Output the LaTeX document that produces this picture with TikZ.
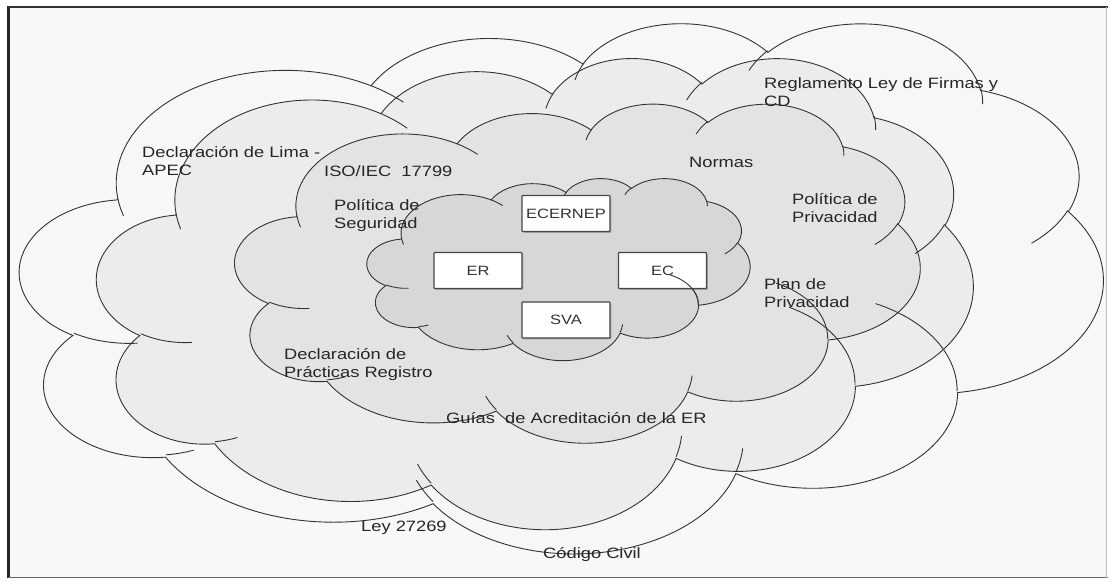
\documentclass[tikz,border=0pt]{standalone}
\usepackage{fontspec}
\setmainfont{Liberation Sans}[FakeStretch=1.22]
\usetikzlibrary{shadows}

% One elliptical arc of the cloud outline: wR, hR, start angle and sweep are
% polar angles on the ellipse; turn them into TikZ's parametric angles.
\newcommand\defarc[5]{%
  \pgfmathsetmacro\arcA{atan2((#2)*sin(#4),(#3)*cos(#4))}%
  \pgfmathsetmacro\arcB{atan2((#2)*sin((#4)+(#5)),(#3)*cos((#4)+(#5)))}%
  \pgfmathsetmacro\arcD{mod(\arcB-\arcA+720,360)}%
  \tikzset{#1/.estyle={x radius=#2pt, y radius=#3pt, start angle=\arcA, delta angle=\arcD}}%
}
% outline lobes (frame 43.2 x 43.2, y downwards)
\defarc{oa1}{6.753}{9.19}{-190.48748}{123.78053}
\defarc{oa2}{5.333}{7.267}{-144.10238}{89.94523}
\defarc{oa3}{4.365}{5.945}{-145.80792}{99.72302}
\defarc{oa4}{4.857}{6.595}{-130.98607}{117.24173}
\defarc{oa5}{5.333}{7.273}{-78.70888}{109.02692}
\defarc{oa6}{6.775}{9.22}{-46.26725}{130.269}
\defarc{oa7}{5.785}{7.867}{0.62502}{114.03333}
\defarc{oa8}{6.752}{9.215}{22.4516}{115.17255}
\defarc{oa9}{7.72}{10.543}{66.24263}{75.71102}
\defarc{oa10}{4.36}{5.918}{-274.94208}{146.73557}
\defarc{oa11}{4.345}{5.945}{-246.8285}{152.51885}
% inner creases between the lobes
\defarc{oc1}{4.345}{5.945}{86.742}{26.4295}
\defarc{oc2}{4.36}{5.918}{73.61047}{11.44747}
\defarc{oc3}{6.752}{9.215}{137.62415}{14.0811}
\defarc{oc4}{6.752}{9.215}{6.45327}{15.99835}
\defarc{oc5}{5.785}{7.867}{-70.29235}{70.9174}
\defarc{oc6}{5.333}{7.273}{30.31803}{27.7515}
\defarc{oc7}{4.857}{6.595}{-13.74433}{14.8589}
\defarc{oc8}{4.857}{6.595}{-149.18145}{18.19537}
\defarc{oc9}{4.365}{5.945}{-163.49427}{17.68635}
\defarc{oc10}{6.753}{9.19}{-66.70695}{12.31935}
\defarc{oc11}{6.753}{9.19}{157.65435}{11.85538}

\def\cloudpath{(3.9,14.37) arc[oa1] arc[oa2] arc[oa3] arc[oa4] arc[oa5]
  arc[oa6] arc[oa7] arc[oa8] arc[oa9] arc[oa10] arc[oa11] -- cycle}
\def\creasepath{(4.693,26.177) arc[oc1] (6.928,34.899) arc[oc2]
  (16.478,39.09) arc[oc3] (28.827,34.751) arc[oc4] (34.129,22.954) arc[oc5]
  (41.798,15.354) arc[oc6] (38.324,5.426) arc[oc7] (29.078,3.952) arc[oc8]
  (22.141,4.72) arc[oc9] (14,5.192) arc[oc10] (4.127,15.789) arc[oc11]}
\def\lowcrease{(34.129,22.954) arc[oc5]}

\newcommand\twolines[2]{\vtop{\hbox{#1}\hbox{#2}}}

\definecolor{bgpage}{HTML}{F8F8F8}
\definecolor{cloudA}{HTML}{F7F7F7}
\definecolor{cloudB}{HTML}{ECECEC}
\definecolor{cloudC}{HTML}{E3E3E3}
\definecolor{cloudD}{HTML}{D7D7D7}

\tikzset{
  cloudat/.style args={#1/#2/#3/#4}{shift={(#1,-#2)}, xscale=#3/43.2, yscale=-#4/43.2},
  cloudline/.style={draw=black!80, line width=0.9pt},
  lbl/.style={inner sep=0pt, anchor=base west, font=\fontsize{15}{18}\selectfont, text=black!85},
  entity/.style={draw=black!72, line width=1.2pt, fill=white, rounded corners=0.8pt,
    minimum width=88pt, minimum height=36pt, inner sep=0pt,
    font=\fontsize{13.5}{16}\selectfont, text=black!80,
    drop shadow={shadow xshift=1.3pt, shadow yshift=-1.3pt, fill=black!50, opacity=0.55}},
}

\begin{document}
\begin{tikzpicture}[x=1pt,y=1pt]
\useasboundingbox (0,0) rectangle (1111,-581);
\fill[white] (0,0) rectangle (1111,-581);
\fill[bgpage] (8,-7) rectangle (1106,-577);

% cloud fills, outermost first
\begin{scope}[cloudat=20/22/1083/530] \fill[cloudA] \cloudpath; \end{scope}
\begin{scope}[cloudat=97/57/876/471]  \fill[cloudB] \cloudpath; \end{scope}
\begin{scope}[cloudat=235/103/685/339] \fill[cloudC] \cloudpath; \end{scope}
\begin{scope}[cloudat=367/178/383/182] \fill[cloudD] \cloudpath; \end{scope}

% cloud outlines and creases
\foreach \c in {20/22/1083/530, 97/57/876/471, 235/103/685/339, 367/178/383/182}{
  \begin{scope}[cloudat/.expanded=\c]
    \path[cloudline] \cloudpath;
    \path[cloudline] \creasepath;
  \end{scope}
}

% entities in the core
\node[entity] (ecernep) at (566,-213.5) {ECERNEP};
\node[entity] (er)      at (478,-270.5) {ER};
\node[entity] (ec)      at (662.5,-270.5) {EC};
\node[entity] (sva)     at (566,-320) {SVA};

% the core cloud's lower crease runs over the EC box
\begin{scope}[cloudat=367/178/383/182] \path[cloudline] \lowcrease; \end{scope}

% frame
\draw[black!85, line width=2.5pt] (8.5,-5.5) -- (8.5,-578);
\draw[black!80, line width=2pt] (7.5,-7) -- (1108,-7);
\draw[black!60, line width=1.5pt] (7.5,-577.5) -- (1108,-577.5);
\draw[black!25, line width=1pt] (1106,-7) -- (1106,-577.5);

% labels
\node[lbl] (lima)   at (142,-157) {\twolines{Declaración de Lima -}{APEC}};
\node[lbl] (regl)   at (764,-88)  {\twolines{Reglamento Ley de Firmas y}{CD}};
\node[lbl] (iso)    at (324,-176) {ISO/IEC\ \ 17799};
\node[lbl] (normas) at (689,-167) {Normas};
\node[lbl] (polseg) at (334,-210) {\twolines{Política de}{Seguridad}};
\node[lbl] (polpriv) at (792,-204) {\twolines{Política de}{Privacidad}};
\node[lbl] (plan)   at (764,-289) {\twolines{Plan de}{Privacidad}};
\node[lbl] (dpr)    at (284,-359) {\twolines{Declaración de}{Prácticas Registro}};
\node[lbl] (guias)  at (446,-423) {Guías\ \ de Acreditación de la ER};
\node[lbl] (ley)    at (361,-531) {Ley 27269};
\node[lbl] (civil)  at (543,-558) {Código Civil};
\end{tikzpicture}
\end{document}
